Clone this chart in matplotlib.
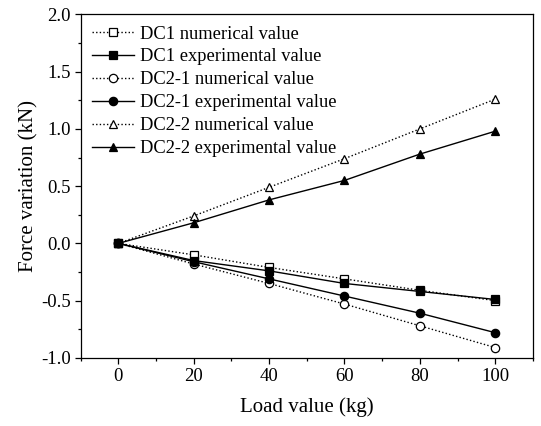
import matplotlib
matplotlib.use("Agg")
import matplotlib.pyplot as plt
from matplotlib.ticker import MultipleLocator, FuncFormatter

plt.rcParams['font.family'] = ['Liberation Serif', 'DejaVu Serif']

load = [0, 20, 40, 60, 80, 100]

dc1_num = [0.0, -0.10, -0.21, -0.31, -0.41, -0.50]
dc1_exp = [0.0, -0.15, -0.24, -0.35, -0.42, -0.49]
dc21_num = [0.0, -0.18, -0.35, -0.53, -0.72, -0.91]
dc21_exp = [0.0, -0.16, -0.31, -0.46, -0.61, -0.78]
dc22_num = [0.0, 0.24, 0.49, 0.74, 1.00, 1.26]
dc22_exp = [0.0, 0.18, 0.38, 0.55, 0.78, 0.98]

labels = ["DC1 numerical value", "DC1 experimental value",
          "DC2-1 numerical value", "DC2-1 experimental value",
          "DC2-2 numerical value", "DC2-2 experimental value"]

fig = plt.figure(figsize=(5.41, 4.26), dpi=100)
ax = fig.add_axes([0.149, 0.160, 0.836, 0.806])

dotted = (0, (1.0, 1.6))
series = [
    (dc1_num, 's', 'white', dotted),
    (dc1_exp, 's', 'black', '-'),
    (dc21_num, 'o', 'white', dotted),
    (dc21_exp, 'o', 'black', '-'),
    (dc22_num, '^', 'white', dotted),
    (dc22_exp, '^', 'black', '-'),
]
for (vals, mk, fc, ls), lab in zip(series, labels):
    ax.plot(load, vals, linestyle=ls, color='black', linewidth=1.0,
            marker=mk, markersize=6, markerfacecolor=fc,
            markeredgecolor='black', markeredgewidth=0.9, label=lab)

ax.set_xlim(-10, 110)
ax.set_ylim(-1.0, 2.0)
ax.xaxis.set_major_locator(MultipleLocator(20))
ax.xaxis.set_minor_locator(MultipleLocator(10))
ax.yaxis.set_major_locator(MultipleLocator(0.5))
ax.yaxis.set_minor_locator(MultipleLocator(0.25))
ax.yaxis.set_major_formatter(FuncFormatter(lambda v, p: f"{v:.1f}"))

ax.tick_params(which='both', direction='out', top=False, right=False,
               labelsize=13.5, pad=3)
ax.tick_params(which='major', length=4, width=0.9)
ax.tick_params(which='minor', length=2.5, width=0.9)
for sp in ax.spines.values():
    sp.set_linewidth(0.9)

ax.set_xlabel("Load value (kg)", fontsize=15, labelpad=9)
ax.set_ylabel("Force variation (kN)", fontsize=15, labelpad=2)

ax.legend(loc='upper left', frameon=False, fontsize=13.3,
          handlelength=2.3, handletextpad=0.3, labelspacing=0.32,
          borderaxespad=0.3, borderpad=0.3, bbox_to_anchor=(0.0, 1.0))

fig.savefig("out.png", dpi=100)
